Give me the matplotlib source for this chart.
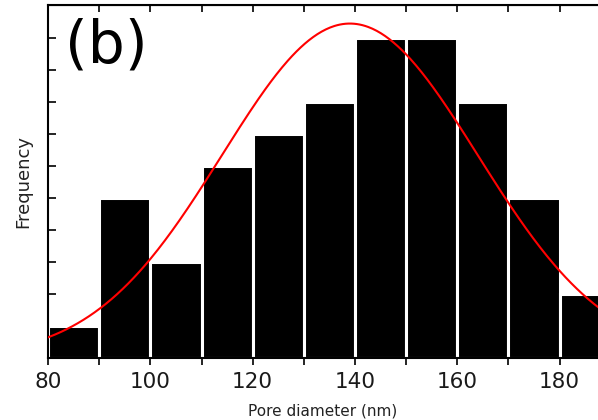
import numpy as np
import matplotlib.pyplot as plt

plt.rcParams['font.family'] = ['DejaVu Sans']

# histogram of pore diameters, 10 nm bins
bin_edges = [80, 90, 100, 110, 120, 130, 140, 150, 160, 170, 180, 190]
counts = [1, 5, 3, 6, 7, 8, 10, 10, 8, 5, 2]

# gaussian fit to the distribution
fit_mu = 139.0
fit_sigma = 25.0
fit_amp = 10.45

fig = plt.figure(figsize=(5.98, 4.2), dpi=100)
ax = fig.add_axes([0.0803, 0.1476, 0.9197, 0.8405])

lefts = np.array(bin_edges[:-1])
widths = np.diff(bin_edges)
ax.bar(lefts, counts, width=widths, align='edge', color='black',
       edgecolor='white', linewidth=2.2, zorder=2)

xs = np.linspace(80, 190, 400)
ax.plot(xs, fit_amp * np.exp(-(xs - fit_mu) ** 2 / (2 * fit_sigma ** 2)),
        color='#ff0000', linewidth=1.5, zorder=3)

ax.set_xlim(80, 187.5)
ax.set_ylim(0, 11.03)

ax.set_xticks(range(80, 190, 20))
ax.set_xticks(range(90, 190, 20), minor=True)
ax.set_yticks(range(1, 11))
ax.set_yticklabels([])
ax.tick_params(axis='x', which='both', direction='out', length=5, width=1.2,
               labelsize=15.5, pad=5, labelcolor='#1a1a1a')
ax.tick_params(axis='y', direction='in', length=6, width=1.2)

# mirrored inward ticks on the top spine
top = ax.secondary_xaxis('top')
top.set_xticks(range(80, 190, 20))
top.set_xticks(range(90, 190, 20), minor=True)
top.tick_params(which='both', direction='in', length=5, width=1.2, labeltop=False)

for s in ax.spines.values():
    s.set_linewidth(1.5)
ax.spines['right'].set_visible(False)

ax.set_xlabel('Pore diameter (nm)', fontsize=11, labelpad=8, color='#222222')
ax.set_ylabel('Frequency', fontsize=13, labelpad=8, color='#222222')

ax.text(0.031, 0.965, '(b)', transform=ax.transAxes, fontsize=42,
        ha='left', va='top')

fig.savefig('out.png', dpi=100)
